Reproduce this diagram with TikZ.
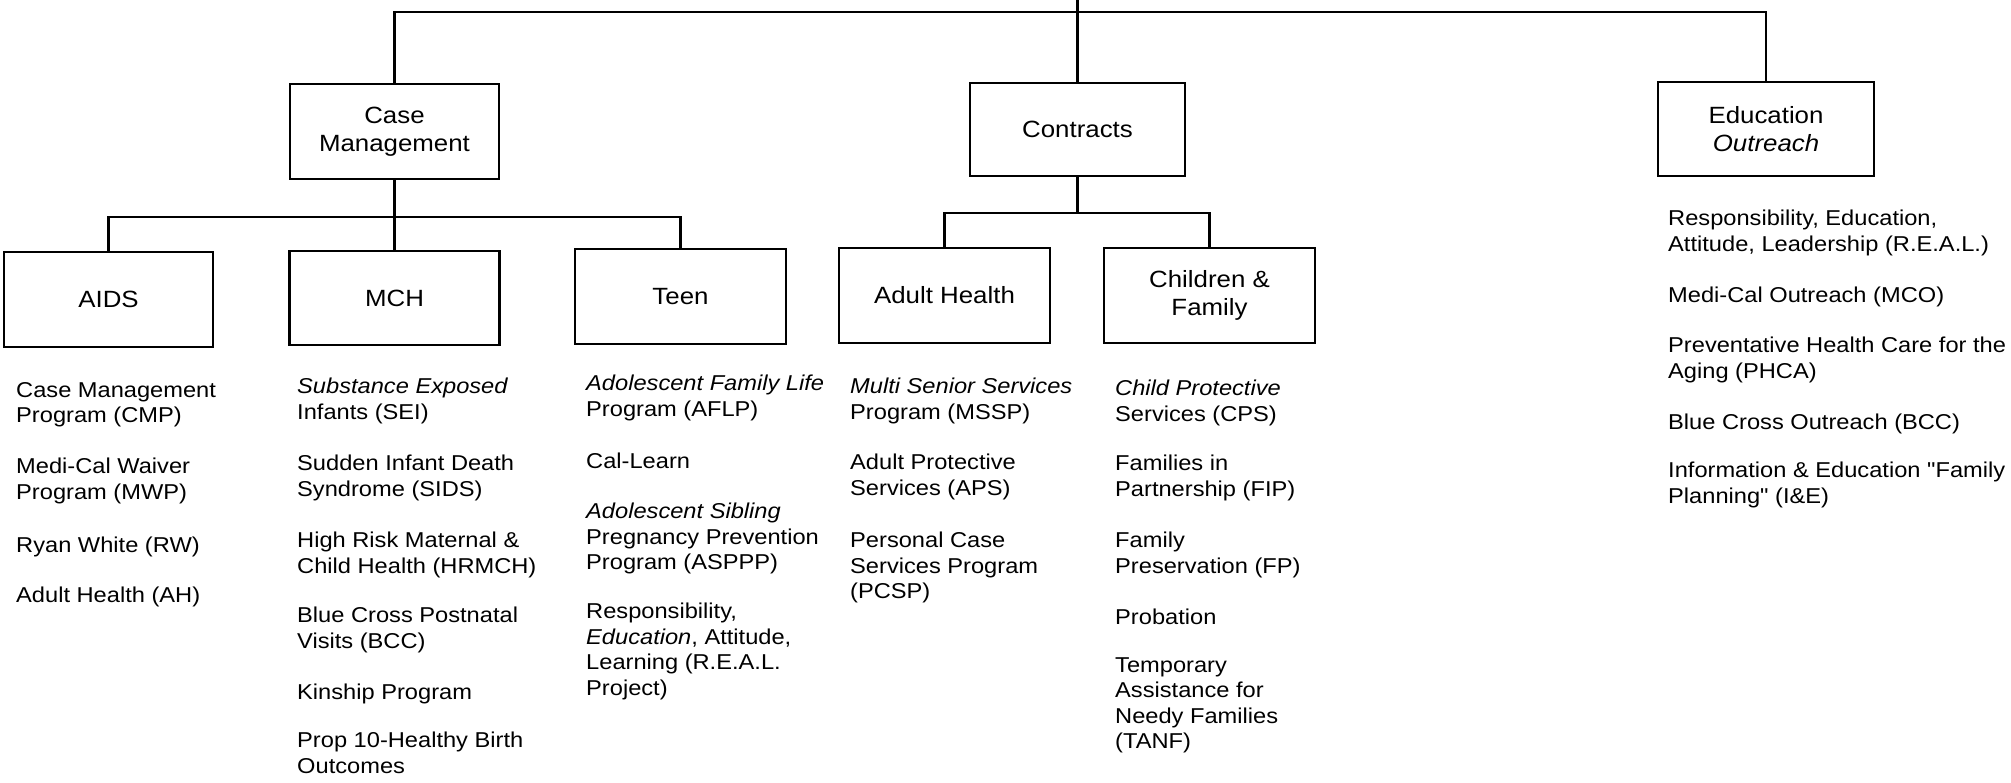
\documentclass[tikz,border=0pt]{standalone}
\usepackage{fontspec}
\setmainfont{Liberation Sans}[FakeStretch=1.1]
\newfontfamily\plainq{Liberation Sans}[FakeStretch=1.1]
\newcommand\sq{{\plainq"}}
\begin{document}
\begin{tikzpicture}[x=1pt,y=-1pt,
  box/.style={draw, line width=2.2pt, rectangle, inner sep=0pt, align=center,
    font=\fontsize{23.5}{28.5}\selectfont},
  item/.style={anchor=north west, inner sep=0pt, align=left,
    font=\fontsize{21.5}{25.5}\selectfont, execute at begin node={\rule{0pt}{17pt}}},
  conn/.style={line width=2.2pt}]
\useasboundingbox (0,0) rectangle (2011,782);

% level 1 boxes
\node[box, minimum width=209pt, minimum height=95pt] (cm) at (394.5,131.5) {Case\\Management};
\node[box, minimum width=215pt, minimum height=93pt] (con) at (1077.5,129.5) {Contracts};
\node[box, minimum width=216pt, minimum height=94pt] (edu) at (1766,129) {Education\\\textit{Outreach}};

% level 2 boxes
\node[box, minimum width=209pt, minimum height=95pt] (aids) at (108.5,299.5) {AIDS};
\node[box, minimum width=210pt, minimum height=94pt] (mch) at (394.5,298) {MCH};
\node[box, minimum width=211pt, minimum height=95pt] (teen) at (680.5,296.5) {Teen};
\node[box, minimum width=211pt, minimum height=95pt] (ah) at (944.5,295.5) {Adult Health};
\node[box, minimum width=211pt, minimum height=95pt] (cf) at (1209.5,295.5) {Children \&\\Family};

% connectors
\coordinate (top) at (0,12);
\coordinate (stub) at (1077.5,-5);
\coordinate (cmbus) at (394.5,217);
\coordinate (conbus) at (1077.5,213);
\draw[conn] (cm.north) -- (cm.north |- top) -- (edu.north |- top) -- (edu.north);
\draw[conn] (stub) -- (con.north);
\draw[conn] (cm.south) -- (mch.north);
\draw[conn] (aids.north) |- (cmbus) -| (teen.north);
\draw[conn] (con.south) -- (conbus);
\draw[conn] (ah.north) |- (conbus) -| (cf.north);

% AIDS column
\node[item] (a1) at (16,382) {Case Management\\Program (CMP)};
\node[item] (a2) at (16,458) {Medi-Cal Waiver\\Program (MWP)};
\node[item] (a3) at (16,535) {Ryan White (RW)};
\node[item] (a4) at (16,585) {Adult Health (AH)};

% MCH column
\node[item] (m1) at (297,378) {\textit{Substance Exposed}\\Infants (SEI)};
\node[item] (m2) at (297,455) {Sudden Infant Death\\Syndrome (SIDS)};
\node[item] (m3) at (297,532) {High Risk Maternal \&\\Child Health (HRMCH)};
\node[item] (m4) at (297,607) {Blue Cross Postnatal\\Visits (BCC)};
\node[item] (m5) at (297,682) {Kinship Program};
\node[item] (m6) at (297,732) {Prop 10-Healthy Birth\\Outcomes};

% Teen column
\node[item] (t1) at (586,375) {\textit{Adolescent Family Life}\\Program (AFLP)};
\node[item] (t2) at (586,451) {Cal-Learn};
\node[item] (t3) at (586,503) {\textit{Adolescent Sibling}\\Pregnancy Prevention\\Program (ASPPP)};
\node[item] (t4) at (586,603) {Responsibility,\\\textit{Education}, Attitude,\\Learning (R.E.A.L.\\Project)};

% Adult Health column
\node[item] (h1) at (850,378) {\textit{Multi Senior Services}\\Program (MSSP)};
\node[item] (h2) at (850,454) {Adult Protective\\Services (APS)};
\node[item] (h3) at (850,532) {Personal Case\\Services Program\\(PCSP)};

% Children & Family column
\node[item] (c1) at (1115,380) {\textit{Child Protective}\\Services (CPS)};
\node[item] (c2) at (1115,455) {Families in\\Partnership (FIP)};
\node[item] (c3) at (1115,532) {Family\\Preservation (FP)};
\node[item] (c4) at (1115,607) {Probation};
\node[item] (c5) at (1115,657) {Temporary\\Assistance for\\Needy Families\\(TANF)};

% Education Outreach column
\node[item] (e1) at (1668,210) {Responsibility, Education,\\Attitude, Leadership (R.E.A.L.)};
\node[item] (e2) at (1668,285) {Medi-Cal Outreach (MCO)};
\node[item] (e3) at (1668,337) {Preventative Health Care for the\\Aging (PHCA)};
\node[item] (e4) at (1668,412) {Blue Cross Outreach (BCC)};
\node[item] (e5) at (1668,462) {Information \& Education \sq Family\\Planning\sq\ (I\&E)};
\end{tikzpicture}
\end{document}
